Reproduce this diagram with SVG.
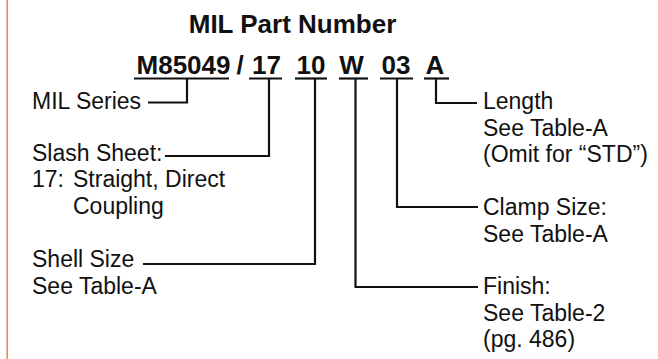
<svg xmlns="http://www.w3.org/2000/svg" width="658" height="359" viewBox="0 0 658 359">
<style>
.t{font-family:"Liberation Sans",Arial,sans-serif;font-size:23px;fill:#111}
.b{font-family:"Liberation Sans",Arial,sans-serif;font-weight:bold;font-size:26px;fill:#111;text-anchor:middle}
.c{stroke:#111;stroke-width:2.2;fill:none}
</style>
<rect width="658" height="359" fill="#fff"/>
<line x1="7.2" y1="0" x2="7.2" y2="359" stroke="#F4874B" stroke-width="1.6"/>
<g id="title"><text class="b" x="292.5" y="33">MIL Part Number</text></g>
<g id="part-number">
<text class="b" x="183.5" y="73.5">M85049</text>
<text class="b" x="240" y="73.5">/</text>
<text class="b" x="266.5" y="73.5">17</text>
<text class="b" x="311" y="73.5">10</text>
<text class="b" x="351.5" y="73.5">W</text>
<text class="b" x="396" y="73.5">03</text>
<text class="b" x="435" y="73.5">A</text>
<g class="c">
<line x1="134" y1="78.5" x2="229" y2="78.5"/>
<line x1="249" y1="78.5" x2="282" y2="78.5"/>
<line x1="295" y1="78.5" x2="327" y2="78.5"/>
<line x1="339" y1="78.5" x2="368" y2="78.5"/>
<line x1="380" y1="78.5" x2="413" y2="78.5"/>
<line x1="424" y1="78.5" x2="449" y2="78.5"/>
</g>
</g>
<g id="connectors" class="c">
<polyline points="187,78.5 187,102.5 148,102.5"/>
<polyline points="269,78.5 269,156 165,156"/>
<polyline points="315,78.5 315,264 143,264"/>
<polyline points="355.5,78.5 355.5,287 478,287"/>
<polyline points="397,78.5 397,207 478,207"/>
<polyline points="436,78.5 436,103 477,103"/>
</g>
<g id="mil-series"><text class="t" x="32" y="109">MIL Series</text></g>
<g id="slash-sheet">
<text class="t" x="32" y="161">Slash Sheet:</text>
<text class="t" x="32" y="187">17:</text>
<text class="t" x="73" y="187">Straight, Direct</text>
<text class="t" x="73" y="214">Coupling</text>
</g>
<g id="shell-size">
<text class="t" x="32" y="267">Shell Size</text>
<text class="t" x="32" y="294">See Table-A</text>
</g>
<g id="length">
<text class="t" x="483" y="109">Length</text>
<text class="t" x="483" y="135.5">See Table-A</text>
<text class="t" x="483" y="162">(Omit for “STD”)</text>
</g>
<g id="clamp-size">
<text class="t" x="483" y="215">Clamp Size:</text>
<text class="t" x="483" y="241.5">See Table-A</text>
</g>
<g id="finish">
<text class="t" x="483" y="294">Finish:</text>
<text class="t" x="483" y="320.5">See Table-2</text>
<text class="t" x="483" y="347">(pg. 486)</text>
</g>
</svg>
